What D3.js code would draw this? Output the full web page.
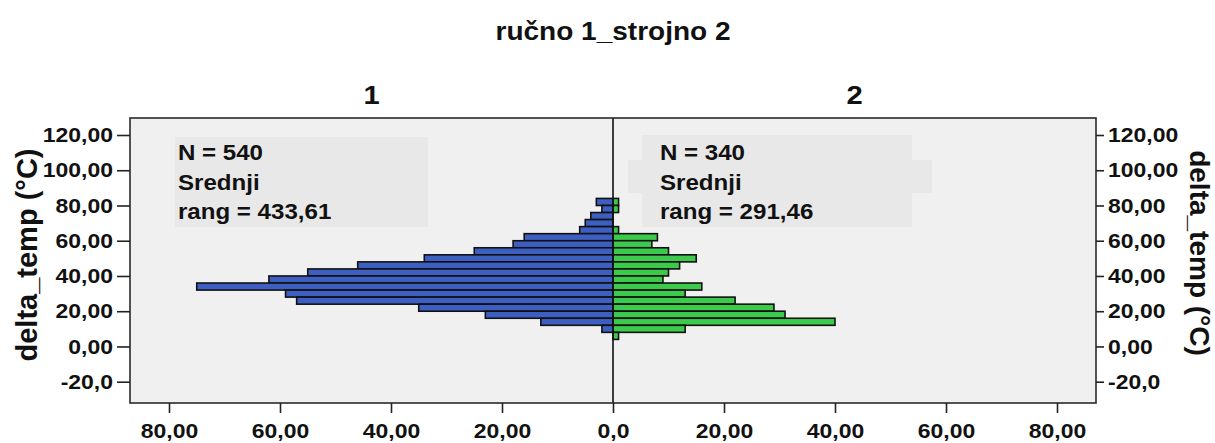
<!DOCTYPE html>
<html>
<head>
<meta charset="utf-8">
<script src="https://cdn.jsdelivr.net/npm/d3@7"></script>
<style>
  body { margin: 0; background: #fff; }
  svg { display: block; }
  text { font-family: "Liberation Sans", Arial, sans-serif; font-weight: bold; fill: #111; }
</style>
</head>
<body>
<svg id="chart" width="1215" height="443"></svg>
<script>
// Lower edges of the delta_temp (°C) bins; every bin is 4 units wide
const binLow = [80, 76, 72, 68, 64, 60, 56, 52, 48, 44, 40, 36, 32, 28, 24, 20, 16, 12, 8, 4];
const binWidth = 4;
// Frequencies per bin: group 1 (ručno) and group 2 (strojno)
const countsGroup1 = [3, 2, 4, 5, 6, 16, 18, 25, 34, 46, 55, 62, 75, 59, 57, 35, 23, 13, 2, 0];
const countsGroup2 = [1, 1, 0, 0, 1, 8, 7, 10, 15, 12, 10, 9, 16, 13, 22, 29, 31, 40, 13, 1];
const groupNames = ["1", "2"];
const groupN = [540, 340];
const groupRank = ["433,61", "291,46"];
const yTickValues = [-20, 0, 20, 40, 60, 80, 100, 120];
const yTickLabels = ["-20,0", "0,00", "20,00", "40,00", "60,00", "80,00", "100,00", "120,00"];
const xTickValues = [20, 40, 60, 80];
const xTickLabels = ["20,00", "40,00", "60,00", "80,00"];
const zeroLabel = "0,0";

const svg = d3.select("#chart");
const L = 130, R = 1096, T = 118, B = 403, C = 613;
const blue = "#3e5fc2", green = "#3cca4c";
const STRETCH = 1.12;

const y = d3.scaleLinear().domain([-20, 120]).range([381.7, 135]);
const xLeft = d3.scaleLinear().domain([0, 80]).range([C, 169]);
const xRight = d3.scaleLinear().domain([0, 80]).range([C, 1057]);

// widen glyphs horizontally, as in the exported chart
function widen(sel) {
  sel.each(function () {
    const w = this.getComputedTextLength();
    this.setAttribute("textLength", w * STRETCH);
    this.setAttribute("lengthAdjust", "spacingAndGlyphs");
  });
}

// plot background
svg.append("rect").attr("x", L).attr("y", T).attr("width", R - L).attr("height", B - T)
  .attr("fill", "#f0f0f0");

// statistics boxes
const boxFill = "#e8e8e8";
svg.append("rect").attr("x", 175).attr("y", 137).attr("width", 253).attr("height", 90).attr("fill", boxFill);
svg.append("rect").attr("x", 642).attr("y", 135).attr("width", 270).attr("height", 92).attr("fill", boxFill);
svg.append("rect").attr("x", 628).attr("y", 160).attr("width", 304).attr("height", 33).attr("fill", boxFill);

const statX = [178, 660];
const statLines = [0, 1].map(i => [`N = ${groupN[i]}`, "Srednji", `rang = ${groupRank[i]}`]);
const lineY = [160, 189.5, 219];
statLines.forEach((lines, i) => {
  svg.append("g").selectAll("text").data(lines).join("text")
    .attr("x", statX[i]).attr("y", (d, j) => lineY[j])
    .style("font-size", "21.5px").text(d => d).call(widen);
});

// bars
const rows = binLow.map((lo, i) => ({ lo, a: countsGroup1[i], b: countsGroup2[i] }));
const barY = d => y(d.lo + binWidth);
const barH = d => y(d.lo) - y(d.lo + binWidth);

svg.append("g").selectAll("rect").data(rows.filter(d => d.a > 0)).join("rect")
  .attr("x", d => xLeft(d.a)).attr("width", d => C - xLeft(d.a))
  .attr("y", barY).attr("height", barH)
  .attr("fill", blue).attr("stroke", "#111").attr("stroke-width", 1.6);

svg.append("g").selectAll("rect").data(rows.filter(d => d.b > 0)).join("rect")
  .attr("x", C).attr("width", d => xRight(d.b) - C)
  .attr("y", barY).attr("height", barH)
  .attr("fill", green).attr("stroke", "#111").attr("stroke-width", 1.6);

// panel divider
svg.append("line").attr("x1", C).attr("x2", C).attr("y1", T).attr("y2", B)
  .attr("stroke", "#111").attr("stroke-width", 1.6);

// frame
svg.append("rect").attr("x", L).attr("y", T).attr("width", R - L).attr("height", B - T)
  .attr("fill", "none").attr("stroke", "#2a2a2a").attr("stroke-width", 1.6);

function styleAxis(g, size) {
  g.attr("font-family", null).attr("font-size", null);
  g.select(".domain").remove();
  g.selectAll(".tick line").attr("stroke", "#222").attr("stroke-width", 1.6);
  g.selectAll(".tick text").style("font-size", size).attr("fill", "#111");
}

const tickFont = "20.5px";

// y axes
const fmtY = v => yTickLabels[yTickValues.indexOf(v)];
svg.append("g").attr("transform", `translate(${L},0)`)
  .call(d3.axisLeft(y).tickValues(yTickValues).tickFormat(fmtY).tickSize(13).tickPadding(4))
  .call(g => styleAxis(g, tickFont))
  .call(g => g.selectAll(".tick text").call(widen));

svg.append("g").attr("transform", `translate(${R},0)`)
  .call(d3.axisRight(y).tickValues(yTickValues).tickFormat(fmtY).tickSize(8).tickPadding(4))
  .call(g => styleAxis(g, tickFont))
  .call(g => g.selectAll(".tick text").call(widen));

// x axes (counts grow outward from the centre line)
const fmtX = v => xTickLabels[xTickValues.indexOf(v)];
function xAxis(scale, values, fmt) {
  svg.append("g").attr("transform", `translate(0,${B})`)
    .call(d3.axisBottom(scale).tickValues(values).tickFormat(fmt).tickSize(10))
    .call(g => styleAxis(g, tickFont))
    .call(g => g.selectAll(".tick text").attr("y", 35).attr("dy", 0).call(widen));
}
xAxis(xLeft, xTickValues, fmtX);
xAxis(xRight, [0], () => zeroLabel);
xAxis(xRight, xTickValues, fmtX);

// titles
svg.append("text").attr("x", C).attr("y", 40).attr("text-anchor", "middle")
  .style("font-size", "25px").text("ručno 1_strojno 2").call(widen);

svg.append("g").selectAll("text").data(groupNames).join("text")
  .attr("x", (d, i) => i === 0 ? (L + C) / 2 : (C + R) / 2).attr("y", 104)
  .attr("text-anchor", "middle").style("font-size", "26px").text(d => d).call(widen);

svg.append("text").attr("transform", "translate(37,255) rotate(-90)").attr("text-anchor", "middle")
  .style("font-size", "29px").text("delta_temp (°C)");
svg.append("text").attr("transform", "translate(1190,253) rotate(90)").attr("text-anchor", "middle")
  .style("font-size", "28px").text("delta_temp (°C)");
</script>
</body>
</html>
